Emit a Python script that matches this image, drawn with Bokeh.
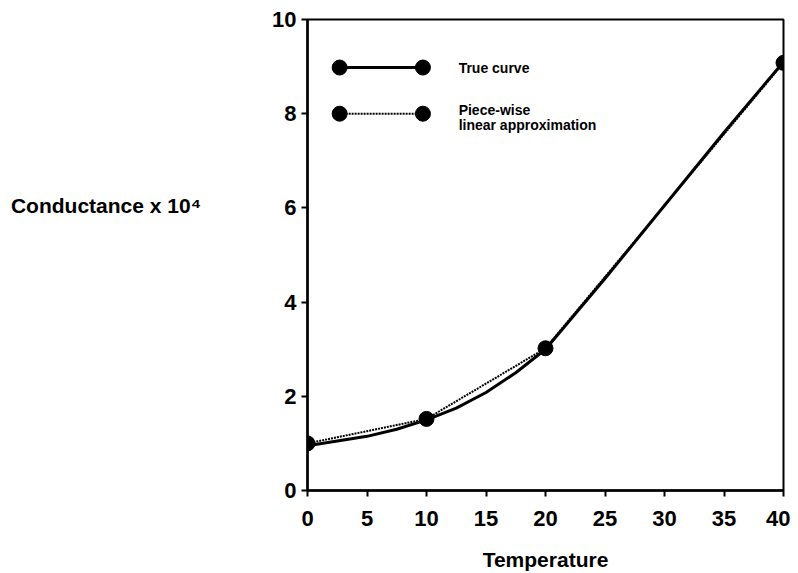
from bokeh.plotting import figure
from bokeh.models import Range1d, FixedTicker
from bokeh.core.properties import value
from bokeh.embed import file_html
from bokeh.resources import INLINE

# Data
true_x = [0, 2.5, 5, 7.5, 10, 12.5, 15, 17.5, 20, 25, 30, 35, 40]
true_y = [0.95, 1.05, 1.15, 1.3, 1.5, 1.75, 2.08, 2.5, 3.0, 4.5, 6.05, 7.6, 9.1]
approx_x = [0, 10, 20, 40]
approx_y = [1.0, 1.52, 3.02, 9.08]
x_ticks = [0, 5, 10, 15, 20, 25, 30, 35, 40]
y_ticks = [0, 2, 4, 6, 8, 10]
legend_labels = ["True curve", "Piece-wise", "linear approximation"]

FONT = "Liberation Sans"

p = figure(width=790, height=573, output_backend="svg", toolbar_location=None,
           x_range=Range1d(0, 40), y_range=Range1d(0, 10),
           min_border_left=307, min_border_right=7, min_border_top=19, min_border_bottom=83)

p.grid.visible = False
p.background_fill_color = "white"
p.border_fill_color = "white"
p.outline_line_color = "black"
p.outline_line_width = 2

for ax in (p.xaxis, p.yaxis):
    ax.axis_line_width = 2.5
    ax.axis_line_color = "black"
    ax.major_tick_line_width = 2
    ax.major_tick_line_color = "black"
    ax.major_tick_out = 6
    ax.major_tick_in = 0
    ax.minor_tick_line_color = None
    ax.major_label_text_font = FONT
    ax.major_label_text_font_style = "bold"
    ax.major_label_text_font_size = "22px"
    ax.major_label_text_color = "black"

p.xaxis.ticker = FixedTicker(ticks=x_ticks)
p.yaxis.ticker = FixedTicker(ticks=y_ticks)
p.xaxis.major_label_standoff = 14
p.yaxis.major_label_standoff = 5

p.xaxis.axis_label = "Temperature"
p.xaxis.axis_label_text_font = FONT
p.xaxis.axis_label_text_font_style = "bold"
p.xaxis.axis_label_text_font_size = "21px"
p.xaxis.axis_label_text_color = "black"
p.xaxis.axis_label_standoff = 19

# y axis title, horizontal, lifted above the frame centre with blank lines
p.yaxis.axis_label = "Conductance x 10\u2074\n \n \n \n "
p.yaxis.axis_label_orientation = "horizontal"
p.yaxis.axis_label_text_font = FONT
p.yaxis.axis_label_text_font_style = "bold"
p.yaxis.axis_label_text_font_size = "21px"
p.yaxis.axis_label_text_line_height = 1.08
p.yaxis.axis_label_text_color = "black"
p.yaxis.axis_label_text_align = "left"
p.yaxis.axis_label_standoff = 68

# curves
p.line(approx_x, approx_y, line_color="black", line_width=2, line_dash="2 1")
p.line(true_x, true_y, line_color="black", line_width=3)
p.scatter(approx_x, approx_y, size=15, marker="circle", fill_color="black", line_color="black")

# legend drawn inside the plot
lx = [2.7, 9.7]
p.line(lx, [8.98, 8.98], line_color="black", line_width=3)
p.scatter(lx, [8.98, 8.98], size=15, fill_color="black", line_color="black")
p.line(lx, [8.0, 8.0], line_color="black", line_width=2, line_dash="2 1")
p.scatter(lx, [8.0, 8.0], size=15, fill_color="black", line_color="black")
p.text([12.7, 12.7, 12.7], [8.98, 8.07, 7.77], text=legend_labels,
       text_font=value(FONT), text_font_style="bold", text_font_size="14px",
       text_baseline="middle", text_align="left", text_color="black")

open("out.html", "w").write(file_html(p, INLINE))
